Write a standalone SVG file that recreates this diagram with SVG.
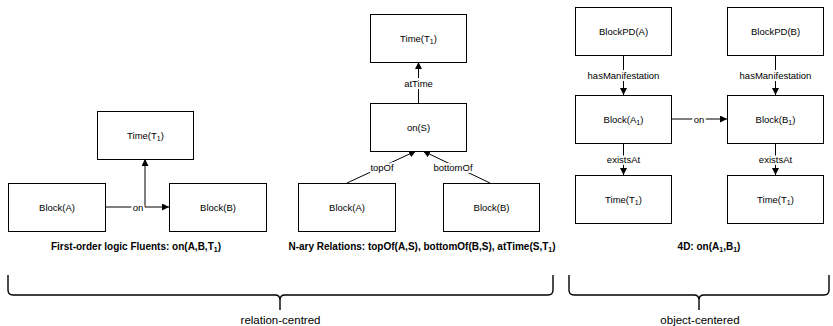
<svg xmlns="http://www.w3.org/2000/svg" width="833" height="326" viewBox="0 0 833 326">
  <defs>
    <marker id="arrow" markerWidth="7" markerHeight="7" refX="7" refY="3.5" orient="auto" markerUnits="userSpaceOnUse">
      <path d="M0,0 L7,3.5 L0,7 Z" fill="#000"/>
    </marker>
    <style>
      .box { fill: #fff; stroke: #000; stroke-width: 1; }
      .lbl { font-family: "Liberation Sans", Arial, sans-serif; font-size: 9.5px; fill: #000; text-anchor: middle; }
      .edge { fill: none; stroke: #000; stroke-width: 1; }
      .elbl { font-family: "Liberation Sans", Arial, sans-serif; font-size: 9.5px; fill: #000; text-anchor: middle; stroke: #fff; stroke-width: 4; paint-order: stroke; stroke-linejoin: round; }
      .cap { font-family: "Liberation Sans", Arial, sans-serif; font-size: 10px; font-weight: bold; fill: #000; text-anchor: middle; }
      .brace { fill: none; stroke: #000; stroke-width: 1.4; }
      .blbl { font-family: "Liberation Sans", Arial, sans-serif; font-size: 11.5px; fill: #000; text-anchor: middle; }
      .sub { font-size: 7px; }
    </style>
  </defs>
  <rect width="833" height="326" fill="#fff"/>

  <!-- connectors -->
  <g id="connectors">
    <!-- first-order fluents -->
    <path class="edge" d="M105,207 H169" marker-end="url(#arrow)"/>
    <path class="edge" d="M145,207 V159" marker-end="url(#arrow)"/>
    <text class="elbl" x="138" y="210.5">on</text>
    <!-- n-ary relations -->
    <path class="edge" d="M418.5,103 V62" marker-end="url(#arrow)"/>
    <text class="elbl" x="418.5" y="86.5">atTime</text>
    <path class="edge" d="M347,183 L416,151" marker-end="url(#arrow)"/>
    <text class="elbl" x="382" y="170.5">topOf</text>
    <path class="edge" d="M490,183 L423,151" marker-end="url(#arrow)"/>
    <text class="elbl" x="453" y="170.5">bottomOf</text>
    <!-- 4D -->
    <path class="edge" d="M623.5,55 V95" marker-end="url(#arrow)"/>
    <text class="elbl" x="623.5" y="78.5">hasManifestation</text>
    <path class="edge" d="M623.5,143 V175" marker-end="url(#arrow)"/>
    <text class="elbl" x="623.5" y="162.5">existsAt</text>
    <path class="edge" d="M775.5,55 V95" marker-end="url(#arrow)"/>
    <text class="elbl" x="775.5" y="78.5">hasManifestation</text>
    <path class="edge" d="M775.5,143 V175" marker-end="url(#arrow)"/>
    <text class="elbl" x="775.5" y="162.5">existsAt</text>
    <path class="edge" d="M672,119 H727" marker-end="url(#arrow)"/>
    <text class="elbl" x="699" y="122.5">on</text>
  </g>

  <!-- first-order logic fluents -->
  <g id="fo-time">
    <rect class="box" x="97.5" y="111.5" width="96" height="48"/>
    <text class="lbl" x="145.5" y="139">Time(T<tspan class="sub" dy="2">1</tspan><tspan dy="-2">)</tspan></text>
  </g>
  <g id="fo-blockA">
    <rect class="box" x="8.5" y="183.5" width="97" height="48"/>
    <text class="lbl" x="57" y="211">Block(A)</text>
  </g>
  <g id="fo-blockB">
    <rect class="box" x="169.5" y="183.5" width="97" height="48"/>
    <text class="lbl" x="218" y="211">Block(B)</text>
  </g>

  <!-- n-ary relations -->
  <g id="nr-time">
    <rect class="box" x="370.5" y="14.5" width="96" height="48"/>
    <text class="lbl" x="418.5" y="42">Time(T<tspan class="sub" dy="2">1</tspan><tspan dy="-2">)</tspan></text>
  </g>
  <g id="nr-onS">
    <rect class="box" x="370.5" y="103.5" width="96" height="48"/>
    <text class="lbl" x="418.5" y="131">on(S)</text>
  </g>
  <g id="nr-blockA">
    <rect class="box" x="298.5" y="183.5" width="97" height="48"/>
    <text class="lbl" x="347" y="211">Block(A)</text>
  </g>
  <g id="nr-blockB">
    <rect class="box" x="443.5" y="183.5" width="96" height="48"/>
    <text class="lbl" x="491.5" y="211">Block(B)</text>
  </g>

  <!-- 4D -->
  <g id="fd-blockPDA">
    <rect class="box" x="575.5" y="7.5" width="96" height="48"/>
    <text class="lbl" x="623.5" y="35">BlockPD(A)</text>
  </g>
  <g id="fd-blockA1">
    <rect class="box" x="575.5" y="95.5" width="96" height="48"/>
    <text class="lbl" x="623.5" y="123">Block(A<tspan class="sub" dy="2">1</tspan><tspan dy="-2">)</tspan></text>
  </g>
  <g id="fd-timeA">
    <rect class="box" x="575.5" y="175.5" width="96" height="48"/>
    <text class="lbl" x="623.5" y="203">Time(T<tspan class="sub" dy="2">1</tspan><tspan dy="-2">)</tspan></text>
  </g>
  <g id="fd-blockPDB">
    <rect class="box" x="727.5" y="7.5" width="96" height="48"/>
    <text class="lbl" x="775.5" y="35">BlockPD(B)</text>
  </g>
  <g id="fd-blockB1">
    <rect class="box" x="727.5" y="95.5" width="96" height="48"/>
    <text class="lbl" x="775.5" y="123">Block(B<tspan class="sub" dy="2">1</tspan><tspan dy="-2">)</tspan></text>
  </g>
  <g id="fd-timeB">
    <rect class="box" x="727.5" y="175.5" width="96" height="48"/>
    <text class="lbl" x="775.5" y="203">Time(T<tspan class="sub" dy="2">1</tspan><tspan dy="-2">)</tspan></text>
  </g>

  <!-- captions -->
  <g id="captions">
    <text class="cap" x="136" y="250">First-order logic Fluents: on(A,B,T<tspan class="sub" dy="2">1</tspan><tspan dy="-2">)</tspan></text>
    <text class="cap" x="422" y="250">N-ary Relations: topOf(A,S), bottomOf(B,S), atTime(S,T<tspan class="sub" dy="2">1</tspan><tspan dy="-2">)</tspan></text>
    <text class="cap" x="709" y="250">4D: on(A<tspan class="sub" dy="2">1</tspan><tspan dy="-2">,B</tspan><tspan class="sub" dy="2">1</tspan><tspan dy="-2">)</tspan></text>
  </g>

  <!-- grouping braces -->
  <g id="brace-relation">
    <path class="brace" d="M8,275 V290 Q8,295 13,295 H275 Q280,295 280,300 V310 M280,300 Q280,295 285,295 H548 Q553,295 553,290 V275"/>
    <text class="blbl" x="280.5" y="324">relation-centred</text>
  </g>
  <g id="brace-object">
    <path class="brace" d="M569,275 V290 Q569,295 574,295 H694 Q699,295 699,300 V310 M699,300 Q699,295 704,295 H824 Q829,295 829,290 V275"/>
    <text class="blbl" x="700" y="324">object-centered</text>
  </g>
</svg>
